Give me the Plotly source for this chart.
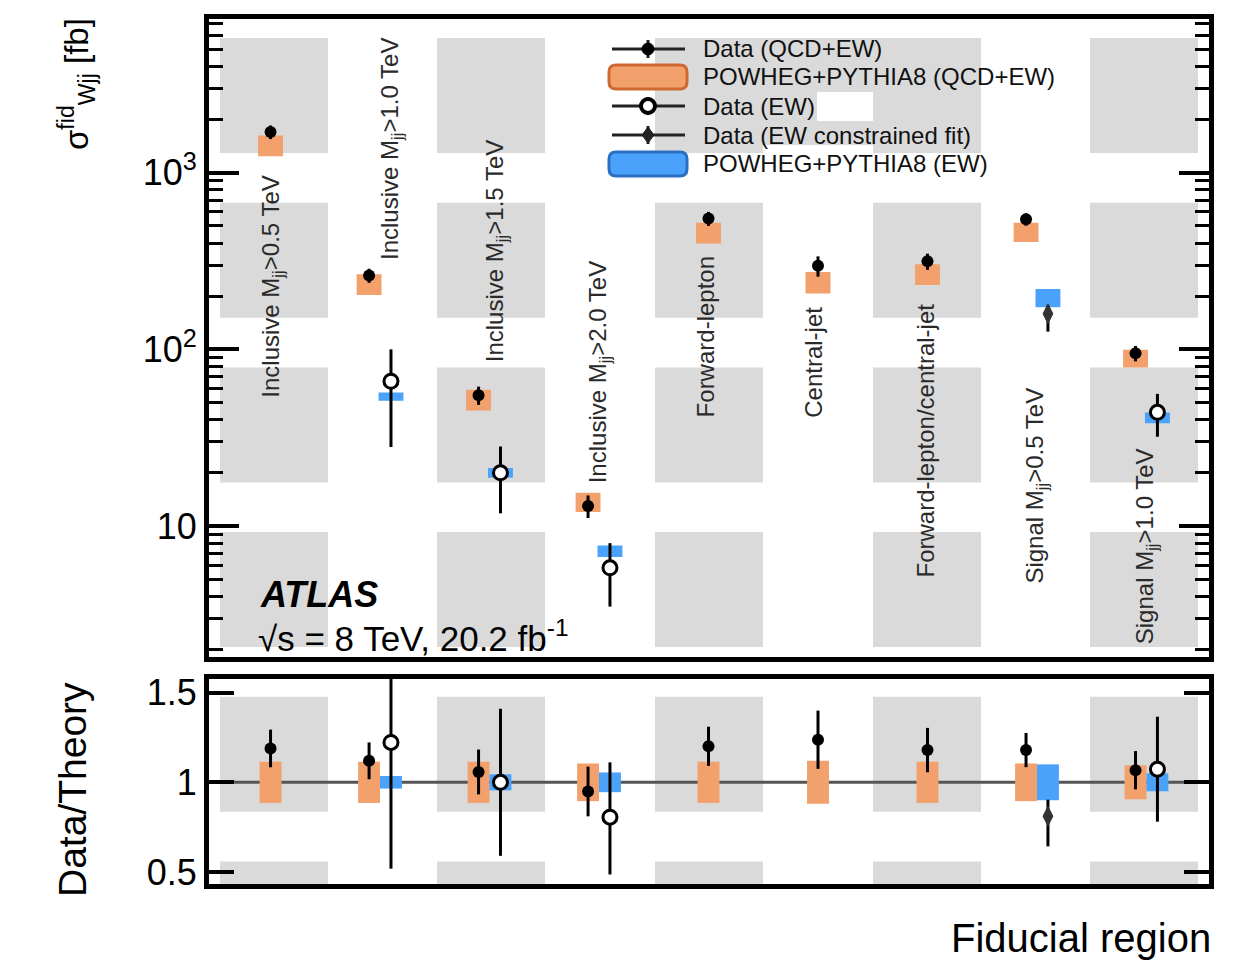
import numpy as np
import plotly.graph_objects as go

# ---------------------------------------------------------------------------
# Fiducial cross sections for W+2-jet production (ATLAS, 8 TeV)
# ---------------------------------------------------------------------------
regions = [
    "Inclusive M<sub>jj</sub>&gt;0.5 TeV",
    "Inclusive M<sub>jj</sub>&gt;1.0 TeV",
    "Inclusive M<sub>jj</sub>&gt;1.5 TeV",
    "Inclusive M<sub>jj</sub>&gt;2.0 TeV",
    "Forward-lepton",
    "Central-jet",
    "Forward-lepton/central-jet",
    "Signal M<sub>jj</sub>&gt;0.5 TeV",
    "Signal M<sub>jj</sub>&gt;1.0 TeV",
]

nan = np.nan
# QCD+EW production [fb]
data_qcd = [1700, 262, 55, 13.0, 550, 297, 315, 545, 95]
data_qcd_err = [150, 24, 6.5, 1.9, 50, 39, 33, 44, 9.5]
theory_qcd = [1430, 234, 52, 13.7, 458, 240, 267, 462, 89]
theory_qcd_relunc = [0.115, 0.115, 0.115, 0.105, 0.115, 0.12, 0.115, 0.105, 0.095]

# EW production [fb]
data_ew = [nan, 66, 20, 5.8, nan, nan, nan, 159, 44]
data_ew_err_up = [nan, 34, 8.2, 2.2, nan, nan, nan, 18, 12]
data_ew_err_dn = [nan, 38, 8.2, 2.3, nan, nan, nan, 33, 12]
ew_constrained_fit = [False, False, False, False, False, False, False, True, False]
theory_ew = [nan, 54, 20, 7.2, nan, nan, nan, 196, 41]
theory_ew_relunc = [nan, 0.035, 0.045, 0.055, nan, nan, nan, 0.10, 0.05]

# axis ticks
main_tickvals = [10, 100, 1000]
main_ticktext = ["10", "10<sup>2</sup>", "10<sup>3</sup>"]
ratio_tickvals = [0.5, 1, 1.5]
ratio_ticktext = ["0.5", "1", "1.5"]

# region-label placement (lower end of each rotated label, in fb) and x shift
label_base = [52, 312, 82, 17, 40, 40, 5.0, 4.6, 2.1]
label_dx = [0.015, 0.1, 0.065, 0.0, -0.03, -0.04, -0.02, 0.0, 0.0]

# ---------------------------------------------------------------------------
ORANGE = "#F2A06C"
ORANGE_EDGE = "#D0692F"
BLUE = "#4AA2FA"
BLUE_EDGE = "#2A6FC4"
FONT = "Liberation Sans, Arial, Helvetica, sans-serif"

data_qcd = np.array(data_qcd, float)
data_qcd_err = np.array(data_qcd_err, float)
theory_qcd = np.array(theory_qcd, float)
rq = np.array(theory_qcd_relunc, float)
data_ew = np.array(data_ew, float)
ew_up = np.array(data_ew_err_up, float)
ew_dn = np.array(data_ew_err_dn, float)
theory_ew = np.array(theory_ew, float)
rew = np.array(theory_ew_relunc, float)
fit_mask = np.array(ew_constrained_fit)

idx = np.arange(1, len(regions) + 1, dtype=float)
has_ew = ~np.isnan(data_ew)
x_qcd = idx - 0.1 * has_ew
x_ew = idx + 0.1

# ratios
ratio_qcd = data_qcd / theory_qcd
ratio_qcd_err = data_qcd_err / theory_qcd
ratio_ew = data_ew / theory_ew
ratio_ew_up = ew_up / theory_ew
ratio_ew_dn = ew_dn / theory_ew

fig = go.Figure()

BW = 0.2
# --- upper panel: theory boxes
fig.add_trace(go.Bar(x=x_qcd, base=theory_qcd * (1 - rq), y=2 * theory_qcd * rq,
                     width=BW, marker=dict(color=ORANGE, line=dict(color=ORANGE, width=3)),
                     xaxis="x", yaxis="y", showlegend=False, hoverinfo="skip"))
fig.add_trace(go.Bar(x=x_ew, base=theory_ew * (1 - rew), y=2 * theory_ew * rew,
                     width=BW, marker=dict(color=BLUE, line=dict(color=BLUE, width=3)),
                     xaxis="x", yaxis="y", showlegend=False, hoverinfo="skip"))
# --- lower panel: theory boxes
fig.add_trace(go.Bar(x=x_qcd, base=1 - rq, y=2 * rq, width=BW,
                     marker=dict(color=ORANGE, line=dict(width=0)),
                     xaxis="x2", yaxis="y2", showlegend=False, hoverinfo="skip"))
fig.add_trace(go.Bar(x=x_ew, base=1 - rew, y=2 * rew, width=BW,
                     marker=dict(color=BLUE, line=dict(width=0)),
                     xaxis="x2", yaxis="y2", showlegend=False, hoverinfo="skip"))


def err(plus, minus=None):
    d = dict(type="data", array=plus, color="black", thickness=3, width=0)
    if minus is not None:
        d.update(symmetric=False, arrayminus=minus)
    return d


closed = dict(symbol="circle", size=12, color="black")
open_c = dict(symbol="circle", size=14, color="white", line=dict(color="black", width=3))
fit_m = dict(symbol="diamond-tall", size=14, color="#333333", line=dict(color="#333333", width=1))

for xa, ya, yq, eq, ye, eu, ed in [
    ("x", "y", data_qcd, data_qcd_err, data_ew, ew_up, ew_dn),
    ("x2", "y2", ratio_qcd, ratio_qcd_err, ratio_ew, ratio_ew_up, ratio_ew_dn),
]:
    fig.add_trace(go.Scatter(x=x_qcd, y=yq, mode="markers", marker=closed,
                             error_y=err(eq), xaxis=xa, yaxis=ya,
                             showlegend=False, cliponaxis=True))
    m_open = has_ew & ~fit_mask
    m_fit = has_ew & fit_mask
    fig.add_trace(go.Scatter(x=x_ew[m_open], y=ye[m_open], mode="markers", marker=open_c,
                             error_y=err(eu[m_open], ed[m_open]), xaxis=xa, yaxis=ya,
                             showlegend=False, cliponaxis=True))
    fig.add_trace(go.Scatter(x=x_ew[m_fit], y=ye[m_fit], mode="markers", marker=fit_m,
                             error_y=err(eu[m_fit], ed[m_fit]), xaxis=xa, yaxis=ya,
                             showlegend=False, cliponaxis=True))

# ---------------------------------------------------------------------------
# page geometry (pixels) -> paper coordinates
W_FIG, H_FIG = 1240, 961
L, R, T, B = 209, 1209, 19, 884
PW, PH = R - L, B - T


def PX(x):
    return (x - L) / PW


def PY(y):
    return (B - y) / PH


shapes = []

# chequered background tiles
tile_cols = [220, 437, 655, 873, 1090]
tile_w = 108
tile_rows = [38 + 164.7 * k for k in range(6)]
tile_h = 115
panels = [(T, 657), (679, B)]
for cx in tile_cols:
    for ry in tile_rows:
        for (p0, p1) in panels:
            y0, y1 = max(ry, p0), min(ry + tile_h, p1)
            if y1 > y0:
                shapes.append(dict(type="rect", xref="paper", yref="paper",
                                   x0=PX(cx), x1=PX(cx + tile_w), y0=PY(y1), y1=PY(y0),
                                   fillcolor="#DADADA", line=dict(width=0), layer="below"))
for (x0, x1, y0, y1) in [(763, 873, 38, 92), (763, 817, 92, 121), (763, 873, 121, 145)]:
    shapes.append(dict(type="rect", xref="paper", yref="paper",
                       x0=PX(x0), x1=PX(x1), y0=PY(y1), y1=PY(y0),
                       fillcolor="#DADADA", line=dict(width=0), layer="below"))

# unity line in the ratio panel
shapes.append(dict(type="line", xref="x2 domain", yref="y2", x0=0, x1=1, y0=1, y1=1,
                   line=dict(color="#555555", width=3), layer="below"))


# legend drawing
def rrect_path(x0, y0, x1, y1, r):
    rx, ry = r / PW, r / PH
    X0, X1, Y0, Y1 = PX(x0), PX(x1), PY(y1), PY(y0)
    return (f"M {X0+rx},{Y0} L {X1-rx},{Y0} Q {X1},{Y0} {X1},{Y0+ry} "
            f"L {X1},{Y1-ry} Q {X1},{Y1} {X1-rx},{Y1} L {X0+rx},{Y1} "
            f"Q {X0},{Y1} {X0},{Y1-ry} L {X0},{Y0+ry} Q {X0},{Y0} {X0+rx},{Y0} Z")


leg_rows = [49, 77, 106, 135, 164]
leg_text = ["Data (QCD+EW)", "POWHEG+PYTHIA8 (QCD+EW)", "Data (EW)",
            "Data (EW constrained fit)", "POWHEG+PYTHIA8 (EW)"]
leg_kind = ["closed", "box_o", "open", "fit", "box_b"]
annotations = []
for yrow, txt, kind in zip(leg_rows, leg_text, leg_kind):
    if kind.startswith("box"):
        fill, edge = (ORANGE, ORANGE_EDGE) if kind == "box_o" else (BLUE, BLUE_EDGE)
        shapes.append(dict(type="path", xref="paper", yref="paper",
                           path=rrect_path(609, yrow - 12, 687, yrow + 12, 7),
                           fillcolor=fill, line=dict(color=edge, width=3), layer="above"))
    else:
        shapes.append(dict(type="line", xref="paper", yref="paper",
                           x0=PX(612), x1=PX(685), y0=PY(yrow), y1=PY(yrow),
                           line=dict(color="#222222", width=3), layer="above"))
        shapes.append(dict(type="line", xref="paper", yref="paper",
                           x0=PX(648), x1=PX(648), y0=PY(yrow - 9), y1=PY(yrow + 9),
                           line=dict(color="#222222", width=3), layer="above"))
        if kind == "closed":
            r = 6
            shapes.append(dict(type="circle", xref="paper", yref="paper",
                               x0=PX(648 - r), x1=PX(648 + r), y0=PY(yrow + r), y1=PY(yrow - r),
                               fillcolor="black", line=dict(color="black", width=1), layer="above"))
        elif kind == "open":
            r = 7
            shapes.append(dict(type="circle", xref="paper", yref="paper",
                               x0=PX(648 - r), x1=PX(648 + r), y0=PY(yrow + r), y1=PY(yrow - r),
                               fillcolor="white", line=dict(color="black", width=4), layer="above"))
        else:
            d = 8
            path = (f"M {PX(648)},{PY(yrow - d)} L {PX(648 + 6)},{PY(yrow)} "
                    f"L {PX(648)},{PY(yrow + d)} L {PX(648 - 6)},{PY(yrow)} Z")
            shapes.append(dict(type="path", xref="paper", yref="paper", path=path,
                               fillcolor="#222222", line=dict(color="#222222", width=1),
                               layer="above"))
    annotations.append(dict(text=txt, xref="paper", yref="paper", x=PX(701), y=PY(yrow),
                            xanchor="left", yanchor="middle", showarrow=False,
                            font=dict(family=FONT, size=24, color="#111111")))

# rotated region labels
for i, (lab, base, dx) in enumerate(zip(regions, label_base, label_dx)):
    annotations.append(dict(text=lab, xref="x", yref="y", x=idx[i] + dx, y=np.log10(base),
                            xanchor="center", yanchor="bottom", textangle=-90,
                            showarrow=False, font=dict(family=FONT, size=24, color="#2a2a2a")))

# experiment label
annotations.append(dict(text="<b><i>ATLAS</i></b>", xref="paper", yref="paper",
                        x=PX(258), y=PY(594), xanchor="left", yanchor="middle",
                        showarrow=False, font=dict(family=FONT, size=36, color="black")))
annotations.append(dict(text="√s = 8 TeV, 20.2 fb<sup>-1</sup>", xref="paper", yref="paper",
                        x=PX(256), y=PY(636), xanchor="left", yanchor="middle",
                        showarrow=False, font=dict(family=FONT, size=35, color="black")))

# axis titles
annotations.append(dict(text="σ<sup>fid</sup><sub>Wjj</sub> [fb]", xref="paper", yref="paper",
                        x=PX(76), y=PY(16), xanchor="center", yanchor="top", textangle=-90,
                        showarrow=False, font=dict(family=FONT, size=33, color="black")))
annotations.append(dict(text="Data/Theory", xref="paper", yref="paper",
                        x=PX(72), y=PY(790), xanchor="center", yanchor="middle", textangle=-90,
                        showarrow=False, font=dict(family=FONT, size=39, color="black")))
annotations.append(dict(text="Fiducial region", xref="paper", yref="paper",
                        x=PX(1213), y=PY(938), xanchor="right", yanchor="middle",
                        showarrow=False, font=dict(family=FONT, size=40, color="black")))

minor_vals = [m * 10 ** e for e in range(0, 4) for m in range(2, 10)]

frame = dict(showline=True, linecolor="black", linewidth=5, mirror="ticks")
XRANGE = [0.438, 9.571]

fig.update_layout(
    width=W_FIG, height=H_FIG,
    margin=dict(l=L, r=W_FIG - R, t=T, b=H_FIG - B),
    paper_bgcolor="white", plot_bgcolor="rgba(0,0,0,0)",
    barmode="overlay", showlegend=False,
    font=dict(family=FONT, color="black"),
    xaxis=dict(domain=[0, 1], range=XRANGE, anchor="y", showticklabels=False,
               ticks="", showgrid=False, zeroline=False, **frame),
    yaxis=dict(domain=[PY(657), 1], type="log", range=[0.2586, 3.870], anchor="x",
               tickmode="array", tickvals=main_tickvals, ticktext=main_ticktext,
               ticks="inside", ticklen=30, tickwidth=4, tickcolor="black",
               minor=dict(tickmode="array", tickvals=minor_vals, ticks="inside",
                          ticklen=14, tickwidth=3, tickcolor="black", showgrid=False),
               tickfont=dict(family=FONT, size=36, color="black"),
               showgrid=False, zeroline=False, **frame),
    xaxis2=dict(domain=[0, 1], range=XRANGE, anchor="y2", matches="x", showticklabels=False,
                ticks="", showgrid=False, zeroline=False, **frame),
    yaxis2=dict(domain=[0, PY(679)], range=[0.433, 1.576], anchor="x2",
                tickmode="array", tickvals=ratio_tickvals, ticktext=ratio_ticktext,
                ticks="inside", ticklen=25, tickwidth=4, tickcolor="black",
                tickfont=dict(family=FONT, size=36, color="black"),
                showgrid=False, zeroline=False, **frame),
    shapes=shapes,
    annotations=annotations,
)

fig.write_html("out.html")
